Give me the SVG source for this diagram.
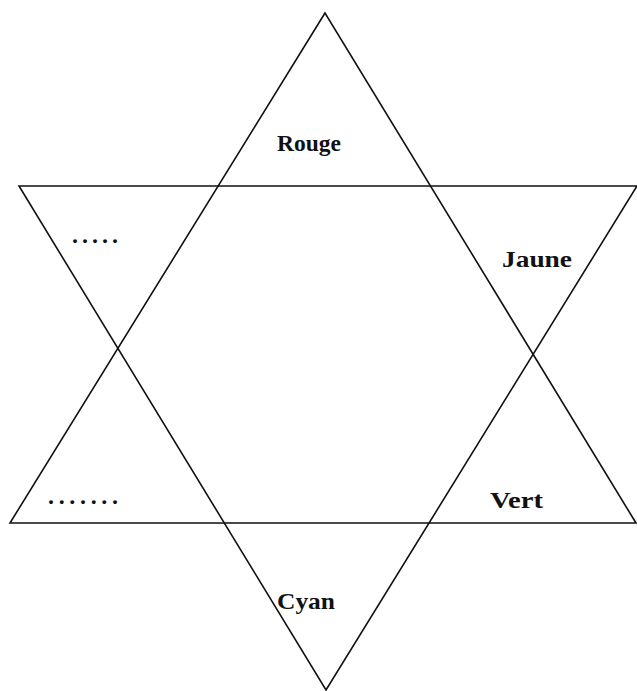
<svg xmlns="http://www.w3.org/2000/svg" width="637" height="691" viewBox="0 0 637 691">
<style>
.tri{fill:none;stroke:#111;stroke-width:1.6;stroke-linejoin:miter}
.lbl{font-family:"Liberation Serif","Times New Roman",serif;font-weight:bold;font-size:24px;fill:#111}
</style>
<rect width="637" height="691" fill="#fff"/>
<g id="connectors">
<polygon id="up-triangle" class="tri" points="325,13 10,523 636,523"/>
<polygon id="down-triangle" class="tri" points="19,186 637,186 326,690"/>
</g>
<g id="rouge"><text class="lbl" x="277" y="151" textLength="64" lengthAdjust="spacingAndGlyphs">Rouge</text></g>
<g id="jaune"><text class="lbl" x="502" y="267" textLength="70" lengthAdjust="spacingAndGlyphs">Jaune</text></g>
<g id="vert"><text class="lbl" x="490" y="508" textLength="53" lengthAdjust="spacingAndGlyphs">Vert</text></g>
<g id="cyan"><text class="lbl" x="277" y="609" textLength="58" lengthAdjust="spacingAndGlyphs">Cyan</text></g>
<g id="dots1"><text class="lbl" x="72" y="243" textLength="46" lengthAdjust="spacing">.....</text></g>
<g id="dots2"><text class="lbl" x="48" y="504" textLength="70" lengthAdjust="spacing">.......</text></g>
</svg>
